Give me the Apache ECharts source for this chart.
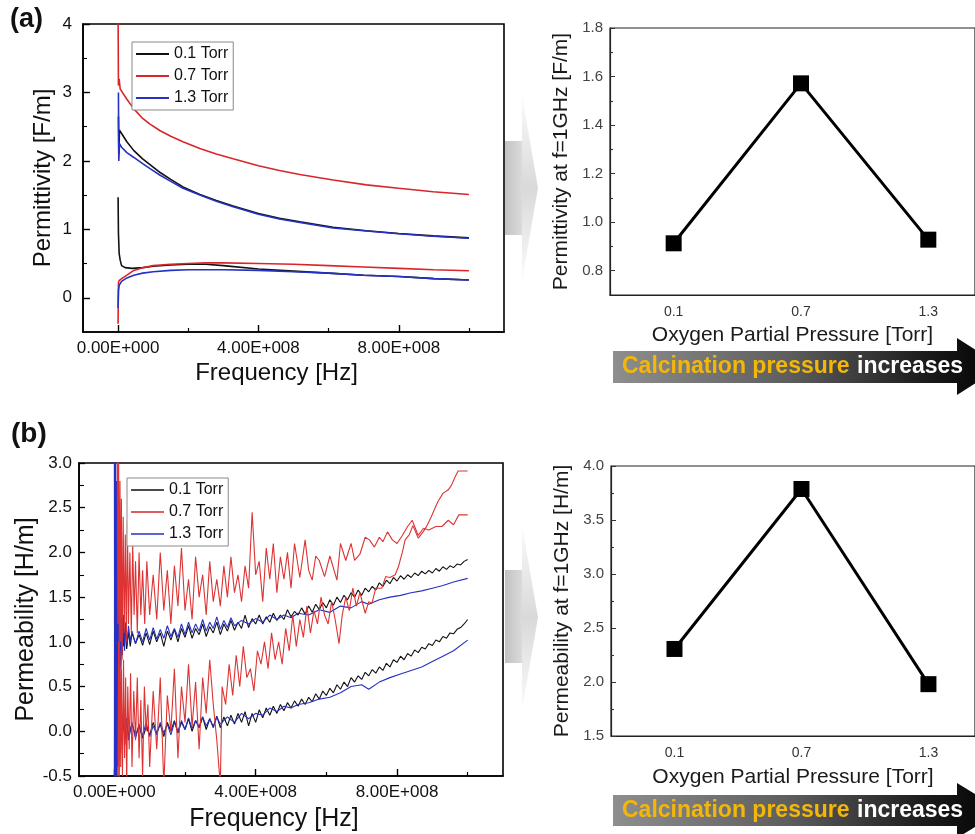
<!DOCTYPE html>
<html>
<head>
<meta charset="utf-8">
<script src="https://cdn.jsdelivr.net/npm/echarts@6/dist/echarts.min.js"></script>
<style>html,body{margin:0;padding:0;background:#fff;}#c{width:975px;height:834px;}</style>
</head>
<body>
<div id="c"></div>
<script>
// ---------- DATA (frequency in units of 1e8 Hz) ----------
const legendNames = ['0.1 Torr', '0.7 Torr', '1.3 Torr'];
const pressureTicks = [0.1, 0.7, 1.3];

// (a) Permittivity vs frequency
const epsBlackReal = [[0.01,2.65],[0.02,2.1],[0.04,2.45],[0.1,2.4],[0.25,2.28],[0.45,2.15],[0.7,2.03],[0.9,1.95],[1.2,1.83],[1.5,1.73],[1.85,1.62],[2.33,1.51],[2.8,1.42],[3.28,1.34],[4,1.23],[4.6,1.16],[5.18,1.11],[6.13,1.03],[7.08,0.98],[8,0.94],[8.98,0.905],[10,0.875]];
const epsBlackImag = [[0.0,1.47],[0.01,0.95],[0.03,0.65],[0.06,0.55],[0.1,0.47],[0.2,0.44],[0.4,0.43],[0.7,0.44],[1.0,0.46],[1.5,0.48],[2,0.49],[2.5,0.49],[3,0.47],[4,0.42],[5,0.39],[6,0.36],[7,0.33],[8,0.31],[9,0.28],[10,0.26]];
const epsRedReal = [[0.0,4.2],[0.01,3.1],[0.03,3.2],[0.06,3.05],[0.1,3.02],[0.25,2.9],[0.45,2.76],[0.7,2.62],[0.9,2.54],[1.2,2.44],[1.5,2.36],[1.85,2.28],[2.33,2.18],[2.8,2.10],[3.28,2.03],[4,1.93],[4.6,1.86],[5.18,1.80],[6.13,1.72],[7.08,1.65],[8,1.60],[8.98,1.55],[10,1.51]];
const epsRedImag = [[0.0,-0.38],[0.01,0.22],[0.03,0.25],[0.1,0.28],[0.25,0.33],[0.45,0.4],[0.7,0.44],[1.0,0.47],[1.5,0.49],[2,0.5],[2.5,0.51],[3,0.51],[4,0.5],[5,0.49],[6,0.47],[7,0.45],[8,0.43],[9,0.41],[10,0.395]];
const epsBlueReal = [[0.01,3.0],[0.02,2.0],[0.04,2.25],[0.1,2.2],[0.25,2.12],[0.45,2.05],[0.7,1.96],[0.9,1.89],[1.2,1.79],[1.5,1.70],[1.85,1.60],[2.33,1.50],[2.8,1.41],[3.28,1.33],[4,1.22],[4.6,1.15],[5.18,1.10],[6.13,1.02],[7.08,0.975],[8,0.935],[8.98,0.90],[10,0.87]];
const epsBlueImag = [[0.0,-0.15],[0.01,0.1],[0.03,0.18],[0.1,0.24],[0.25,0.29],[0.45,0.33],[0.7,0.36],[1.0,0.38],[1.5,0.40],[2,0.41],[3,0.41],[4,0.40],[5,0.38],[6,0.36],[7,0.33],[8,0.31],[9,0.28],[10,0.26]];

// (b) Permeability vs frequency
const muBlackReal = [[0.02,2.2],[0.04,0.3],[0.06,1.9],[0.08,0.5],[0.1,1.6],[0.12,0.7],[0.15,1.4],[0.18,0.85],[0.22,1.25],[0.26,0.95],[0.3,1.15],[0.35,0.92],[0.4,1.12],[0.45,0.95],[0.5,1.1],[0.6,0.98],[0.7,1.08],[0.8,0.96],[0.9,1.1],[1.0,0.97],[1.1,1.12],[1.2,1.0],[1.3,1.1],[1.4,0.95],[1.5,1.12],[1.6,1.02],[1.7,1.14],[1.8,1.0],[1.9,1.15],[2.0,1.05],[2.1,1.18],[2.2,1.04],[2.3,1.15],[2.4,1.08],[2.5,1.2],[2.6,1.06],[2.7,1.17],[2.8,1.1],[2.9,1.22],[3.0,1.08],[3.1,1.2],[3.2,1.12],[3.3,1.24],[3.4,1.13],[3.5,1.22],[3.6,1.15],[3.7,1.3],[3.8,1.16],[3.9,1.26],[4.0,1.2],[4.1,1.3],[4.2,1.2],[4.3,1.28],[4.4,1.22],[4.5,1.32],[4.6,1.24],[4.7,1.3],[4.8,1.25],[4.9,1.36],[5.0,1.28],[5.1,1.34],[5.2,1.3],[5.3,1.38],[5.4,1.31],[5.5,1.4],[5.6,1.33],[5.7,1.42],[5.8,1.36],[5.9,1.44],[6.0,1.38],[6.1,1.47],[6.2,1.41],[6.3,1.5],[6.4,1.44],[6.5,1.52],[6.6,1.47],[6.7,1.55],[6.8,1.5],[6.9,1.58],[7.0,1.52],[7.1,1.6],[7.2,1.56],[7.3,1.62],[7.4,1.58],[7.5,1.66],[7.6,1.62],[7.7,1.69],[7.8,1.65],[7.9,1.72],[8.0,1.68],[8.1,1.74],[8.2,1.7],[8.3,1.75],[8.4,1.72],[8.5,1.77],[8.6,1.74],[8.7,1.79],[8.8,1.76],[8.9,1.8],[9.0,1.77],[9.1,1.82],[9.2,1.79],[9.3,1.84],[9.4,1.81],[9.5,1.85],[9.6,1.83],[9.7,1.87],[9.8,1.86],[9.9,1.9],[10.0,1.92]];
const muBlackImag = [[0.02,-0.6],[0.04,1.2],[0.06,-0.4],[0.08,0.8],[0.1,-0.3],[0.12,0.55],[0.15,-0.2],[0.18,0.35],[0.22,-0.1],[0.26,0.2],[0.3,-0.08],[0.35,0.12],[0.4,-0.05],[0.5,0.08],[0.6,-0.05],[0.7,0.06],[0.8,-0.08],[0.9,0.05],[1.0,-0.04],[1.1,0.1],[1.2,-0.02],[1.3,0.08],[1.4,-0.06],[1.5,0.1],[1.6,0.0],[1.7,0.12],[1.8,-0.02],[1.9,0.1],[2.0,0.02],[2.1,0.14],[2.2,0.0],[2.3,0.12],[2.4,0.04],[2.5,0.16],[2.6,0.02],[2.7,0.14],[2.8,0.05],[2.9,0.17],[3.0,0.04],[3.1,0.16],[3.2,0.06],[3.3,0.18],[3.4,0.08],[3.5,0.2],[3.6,0.1],[3.7,0.22],[3.8,0.06],[3.9,0.2],[4.0,0.1],[4.1,0.24],[4.2,0.15],[4.3,0.26],[4.4,0.18],[4.5,0.28],[4.6,0.2],[4.7,0.3],[4.8,0.23],[4.9,0.32],[5.0,0.26],[5.1,0.34],[5.2,0.28],[5.3,0.36],[5.4,0.3],[5.5,0.38],[5.6,0.33],[5.7,0.42],[5.8,0.36],[5.9,0.45],[6.0,0.4],[6.1,0.48],[6.2,0.43],[6.3,0.52],[6.4,0.47],[6.5,0.55],[6.6,0.5],[6.7,0.6],[6.8,0.55],[6.9,0.62],[7.0,0.58],[7.1,0.66],[7.2,0.62],[7.3,0.69],[7.4,0.65],[7.5,0.72],[7.6,0.68],[7.7,0.76],[7.8,0.72],[7.9,0.8],[8.0,0.77],[8.1,0.84],[8.2,0.8],[8.3,0.87],[8.4,0.84],[8.5,0.91],[8.6,0.88],[8.7,0.94],[8.8,0.92],[8.9,0.98],[9.0,0.96],[9.1,1.02],[9.2,1.0],[9.3,1.06],[9.4,1.04],[9.5,1.1],[9.6,1.09],[9.7,1.14],[9.8,1.16],[9.9,1.2],[10.0,1.25]];
const muRedReal = [[0.08,3.6],[0.1,1.2],[0.12,3.2],[0.14,0.9],[0.16,2.8],[0.18,1.0],[0.2,2.6],[0.22,0.8],[0.25,2.4],[0.28,1.1],[0.31,2.2],[0.34,1.0],[0.37,2.35],[0.4,1.2],[0.44,2.0],[0.48,1.1],[0.52,2.1],[0.56,1.3],[0.6,1.9],[0.65,1.1],[0.7,2.0],[0.75,1.3],[0.8,1.8],[0.86,1.2],[0.92,1.9],[1.0,1.3],[1.1,1.75],[1.2,1.25],[1.3,2.0],[1.4,1.35],[1.5,1.8],[1.6,1.2],[1.7,1.85],[1.8,1.4],[1.9,2.05],[2.0,1.35],[2.1,1.7],[2.2,1.25],[2.3,1.95],[2.4,1.5],[2.5,1.75],[2.6,1.3],[2.7,1.9],[2.8,1.45],[2.9,1.7],[3.0,1.4],[3.1,1.85],[3.2,1.5],[3.3,1.95],[3.4,1.55],[3.5,1.75],[3.6,1.45],[3.7,1.85],[3.8,1.6],[3.9,2.45],[4.0,1.75],[4.1,1.9],[4.2,1.45],[4.3,2.05],[4.4,1.7],[4.5,2.1],[4.6,1.55],[4.7,1.95],[4.8,1.7],[4.9,2.0],[5.0,1.6],[5.1,2.1],[5.25,1.72],[5.4,2.14],[5.5,1.8],[5.6,1.69],[5.7,1.96],[5.8,1.91],[5.95,1.73],[6.1,1.96],[6.3,1.69],[6.4,2.1],[6.55,1.91],[6.7,2.1],[6.8,1.91],[6.95,1.98],[7.1,2.17],[7.22,2.14],[7.36,2.06],[7.5,2.17],[7.6,2.12],[7.73,2.23],[7.87,2.14],[8.0,2.1],[8.15,2.19],[8.3,2.29],[8.43,2.36],[8.6,2.19],[8.75,2.27],[8.9,2.25],[9.1,2.29],[9.27,2.29],[9.45,2.36],[9.6,2.31],[9.75,2.42],[10.0,2.42]];
const muRedImag = [[0.1,-0.7],[0.12,1.0],[0.14,-0.6],[0.16,0.9],[0.18,-0.4],[0.2,0.7],[0.23,-0.5],[0.26,0.8],[0.29,-0.3],[0.32,0.6],[0.35,-0.6],[0.38,0.5],[0.42,-0.2],[0.46,0.65],[0.5,-0.4],[0.55,0.45],[0.6,-0.1],[0.65,0.6],[0.7,-0.3],[0.75,0.35],[0.8,-0.5],[0.85,0.5],[0.9,0.0],[0.95,0.3],[1.0,-0.4],[1.1,0.45],[1.2,-0.2],[1.3,0.6],[1.4,-0.6],[1.5,0.4],[1.6,0.0],[1.7,0.7],[1.8,-0.3],[1.9,0.5],[2.0,0.1],[2.1,0.75],[2.2,0.05],[2.3,0.55],[2.4,-0.2],[2.5,0.6],[2.6,0.2],[2.7,0.8],[2.8,0.3],[2.9,-0.1],[3.0,-0.6],[3.05,0.5],[3.15,0.3],[3.25,0.75],[3.35,0.4],[3.45,0.85],[3.55,0.5],[3.65,0.95],[3.75,0.6],[3.85,0.7],[3.95,0.45],[4.05,0.9],[4.15,0.75],[4.25,1.0],[4.35,0.7],[4.45,1.1],[4.55,0.8],[4.65,1.0],[4.75,0.75],[4.85,1.15],[4.95,0.9],[5.05,1.3],[5.15,0.95],[5.25,1.25],[5.35,1.05],[5.45,1.4],[5.55,1.1],[5.65,1.35],[5.75,1.2],[5.85,1.5],[5.95,1.3],[6.05,1.2],[6.15,1.45],[6.25,1.25],[6.36,0.98],[6.45,1.3],[6.55,1.5],[6.65,1.35],[6.75,1.6],[6.85,1.4],[6.95,1.55],[7.1,1.32],[7.2,1.45],[7.29,1.43],[7.4,1.6],[7.57,1.6],[7.68,1.73],[7.8,1.72],[7.95,1.75],[8.04,1.84],[8.15,2.0],[8.23,2.14],[8.35,2.2],[8.45,2.3],[8.6,2.16],[8.74,2.23],[8.85,2.3],[8.97,2.4],[9.08,2.5],[9.16,2.57],[9.3,2.66],[9.45,2.7],[9.54,2.75],[9.65,2.85],[9.73,2.91],[10.0,2.91]];
const muBlueReal = [[0.0,3.3],[0.01,-0.6],[0.02,3.2],[0.03,-0.6],[0.04,3.0],[0.05,-0.5],[0.06,2.8],[0.07,-0.4],[0.08,2.5],[0.09,-0.2],[0.1,2.2],[0.11,0.1],[0.12,1.9],[0.13,0.3],[0.14,1.7],[0.15,0.5],[0.17,1.5],[0.19,0.7],[0.21,1.4],[0.23,0.85],[0.26,1.3],[0.29,0.9],[0.32,1.22],[0.36,0.95],[0.4,1.18],[0.45,1.0],[0.5,1.12],[0.6,0.98],[0.7,1.12],[0.8,1.0],[0.9,1.15],[1.0,1.02],[1.1,1.16],[1.2,1.03],[1.3,1.14],[1.4,1.04],[1.5,1.18],[1.6,1.06],[1.7,1.15],[1.8,1.05],[1.9,1.2],[2.0,1.08],[2.1,1.22],[2.2,1.1],[2.3,1.2],[2.4,1.12],[2.5,1.25],[2.6,1.12],[2.7,1.22],[2.8,1.15],[2.9,1.28],[3.0,1.14],[3.1,1.24],[3.2,1.16],[3.3,1.27],[3.4,1.18],[3.6,1.24],[3.8,1.2],[4.0,1.26],[4.2,1.22],[4.4,1.3],[4.6,1.25],[4.8,1.3],[5.0,1.27],[5.2,1.32],[5.5,1.3],[5.8,1.36],[6.1,1.33],[6.4,1.4],[6.7,1.38],[7.0,1.45],[7.2,1.42],[7.5,1.47],[7.8,1.5],[8.1,1.52],[8.4,1.55],[8.7,1.57],[9.0,1.6],[9.3,1.63],[9.6,1.67],[10.0,1.71]];
const muBlueImag = [[0.0,-0.7],[0.01,3.4],[0.02,-0.7],[0.03,2.6],[0.04,-0.6],[0.05,2.0],[0.06,-0.5],[0.07,1.5],[0.08,-0.5],[0.09,1.1],[0.1,-0.4],[0.11,0.8],[0.12,-0.35],[0.13,0.6],[0.14,-0.3],[0.16,0.45],[0.18,-0.25],[0.2,0.35],[0.23,-0.2],[0.26,0.25],[0.3,-0.15],[0.34,0.15],[0.4,-0.1],[0.5,0.1],[0.6,-0.08],[0.7,0.08],[0.8,-0.05],[0.9,0.1],[1.0,-0.06],[1.1,0.06],[1.2,-0.04],[1.3,0.1],[1.4,-0.02],[1.5,0.08],[1.6,-0.04],[1.7,0.1],[1.8,0.0],[1.9,0.12],[2.0,0.02],[2.1,0.15],[2.2,0.03],[2.3,0.12],[2.4,0.05],[2.5,0.16],[2.6,0.06],[2.7,0.14],[2.8,0.04],[2.9,0.16],[3.0,0.08],[3.2,0.16],[3.4,0.1],[3.6,0.2],[3.8,0.14],[4.0,0.2],[4.2,0.18],[4.4,0.26],[4.6,0.22],[4.8,0.28],[5.0,0.26],[5.2,0.3],[5.5,0.32],[5.8,0.36],[6.1,0.38],[6.4,0.43],[6.7,0.5],[7.0,0.52],[7.2,0.47],[7.5,0.55],[7.8,0.6],[8.1,0.64],[8.4,0.68],[8.7,0.72],[9.0,0.78],[9.3,0.84],[9.6,0.9],[10.0,1.02]];

// Values at f = 1 GHz vs oxygen partial pressure
const pressures = [0.1, 0.7, 1.3];
const permittivity1GHz = [0.913, 1.572, 0.928];
const permeability1GHz = [2.306, 3.787, 1.98];

// Tick label lists
const freqMajor = [0, 4, 8], freqMinor = [2, 6, 10];
const epsMajor = [0, 1, 2, 3, 4], epsMinor = [0.5, 1.5, 2.5, 3.5];
const muMinor = [-0.25, 0.25, 0.75, 1.25, 1.75, 2.25, 2.75];
const epsGHzMajor = [0.8, 1.0, 1.2, 1.4, 1.6, 1.8], epsGHzMinor = [0.9, 1.1, 1.3, 1.5, 1.7];
const muGHzMinor = [1.75, 2.25, 2.75, 3.25, 3.75];

// ---------- CHART ----------
const FONT = 'Liberation Sans, Arial, sans-serif';
const C_BLACK = '#111111', C_RED = '#d8262a', C_BLUE = '#2431c4';

function sciLabel(v) {
  if (v === 0) return '0.00E+000';
  const hz = v * 1e8;
  const e = Math.floor(Math.log10(hz));
  return (hz / Math.pow(10, e)).toFixed(2) + 'E+' + String(e).padStart(3, '0');
}
function pairs(xs, ys) { return xs.map((x, i) => [x, ys[i]]); }

const grids = [
  { left: 83, top: 24, width: 421, height: 308 },
  { left: 610, top: 28, width: 367, height: 267 },
  { left: 79, top: 463, width: 424, height: 313 },
  { left: 611, top: 466, width: 368, height: 270 }
].map((g, i) => Object.assign(g, {
  show: true, borderColor: i % 2 === 0 ? '#000' : '#222', borderWidth: i % 2 === 0 ? 1.6 : 1.2,
  backgroundColor: 'transparent', containLabel: false
}));

function freqAxes(gi, nameGap, nameSize) {
  return [{
    type: 'value', gridIndex: gi, min: -1, max: 11, position: 'bottom',
    axisLine: { show: true, onZero: false, lineStyle: { color: '#000', width: 1.6 } },
    axisTick: { show: true, inside: true, length: 7, customValues: freqMajor, lineStyle: { color: '#000', width: 1.4 } },
    axisLabel: { show: true, customValues: freqMajor, formatter: sciLabel, fontSize: 17, color: '#111', margin: 8, fontFamily: FONT },
    splitLine: { show: false },
    name: 'Frequency [Hz]', nameLocation: 'middle', nameGap: nameGap,
    nameTextStyle: { fontSize: nameSize, color: '#111', fontFamily: FONT, padding: [0, 34, 0, 0] }
  }, {
    type: 'value', gridIndex: gi, min: -1, max: 11, position: 'bottom',
    axisLine: { show: false, onZero: false },
    axisTick: { show: true, inside: true, length: 4, customValues: freqMinor, lineStyle: { color: '#000', width: 1.2 } },
    axisLabel: { show: false }, splitLine: { show: false }
  }];
}
function pressAxis(gi, nameGap) {
  return {
    type: 'value', gridIndex: gi, min: -0.2, max: 1.52, position: 'bottom',
    axisLine: { show: true, onZero: false, lineStyle: { color: '#222', width: 1.2 } },
    axisTick: { show: false },
    axisLabel: { show: true, customValues: pressureTicks, formatter: v => v.toFixed(1), fontSize: 14, color: '#333', margin: 10, fontFamily: FONT },
    splitLine: { show: false },
    name: 'Oxygen Partial Pressure [Torr]', nameLocation: 'middle', nameGap: nameGap,
    nameTextStyle: { fontSize: 21, color: '#1a1a1a', fontFamily: FONT }
  };
}
function minorY(gi, min, max, vals, len, color) {
  return {
    type: 'value', gridIndex: gi, min: min, max: max, position: 'left',
    axisLine: { show: false, onZero: false },
    axisTick: { show: true, inside: true, length: len, customValues: vals, lineStyle: { color: color, width: 1.1 } },
    axisLabel: { show: false }, splitLine: { show: false }
  };
}

const xAxes = [
  ...freqAxes(0, 29, 24),
  pressAxis(1, 30),
  ...freqAxes(2, 31, 25),
  pressAxis(3, 31)
];

const yAxes = [
  { type: 'value', gridIndex: 0, min: -0.5, max: 4, position: 'left',
    axisLine: { show: true, onZero: false, lineStyle: { color: '#000', width: 1.6 } },
    axisTick: { show: true, inside: true, length: 7, customValues: epsMajor, lineStyle: { color: '#000', width: 1.4 } },
    axisLabel: { show: true, customValues: epsMajor, fontSize: 17, color: '#111', margin: 11, fontFamily: FONT },
    splitLine: { show: false },
    name: 'Permittivity [F/m]', nameLocation: 'middle', nameGap: 28,
    nameTextStyle: { fontSize: 24, color: '#111', fontFamily: FONT } },
  minorY(0, -0.5, 4, epsMinor, 4, '#000'),
  { type: 'value', gridIndex: 1, min: 0.7, max: 1.8, position: 'left',
    axisLine: { show: true, onZero: false, lineStyle: { color: '#222', width: 1.2 } },
    axisTick: { show: true, inside: true, length: 5, customValues: epsGHzMajor, lineStyle: { color: '#333', width: 1 } },
    axisLabel: { show: true, customValues: epsGHzMajor, formatter: v => v.toFixed(1), fontSize: 15, color: '#444', margin: 7, fontFamily: FONT },
    splitLine: { show: false },
    name: 'Permittivity at f=1GHz [F/m]', nameLocation: 'middle', nameGap: 38,
    nameTextStyle: { fontSize: 21, color: '#1a1a1a', fontFamily: FONT } },
  minorY(1, 0.7, 1.8, epsGHzMinor, 3, '#333'),
  { type: 'value', gridIndex: 2, min: -0.5, max: 3, interval: 0.5, position: 'left',
    axisLine: { show: true, onZero: false, lineStyle: { color: '#000', width: 1.6 } },
    axisTick: { show: true, inside: true, length: 6, lineStyle: { color: '#000', width: 1.3 } },
    axisLabel: { show: true, formatter: v => v.toFixed(1), fontSize: 17, color: '#111', margin: 7, fontFamily: FONT },
    splitLine: { show: false },
    name: 'Permeability [H/m]', nameLocation: 'middle', nameGap: 38,
    nameTextStyle: { fontSize: 25, color: '#111', fontFamily: FONT } },
  minorY(2, -0.5, 3, muMinor, 5, '#000'),
  { type: 'value', gridIndex: 3, min: 1.5, max: 4.0, interval: 0.5, position: 'left',
    axisLine: { show: true, onZero: false, lineStyle: { color: '#222', width: 1.2 } },
    axisTick: { show: true, inside: true, length: 5, lineStyle: { color: '#333', width: 1 } },
    axisLabel: { show: true, formatter: v => v.toFixed(1), fontSize: 15, color: '#444', margin: 7, fontFamily: FONT },
    splitLine: { show: false },
    name: 'Permeability at f=1GHz [H/m]', nameLocation: 'middle', nameGap: 38,
    nameTextStyle: { fontSize: 21, color: '#1a1a1a', fontFamily: FONT } },
  minorY(3, 1.5, 4.0, muGHzMinor, 3, '#333')
];

function curve(name, data, color, width, xi, yi, z) {
  return { type: 'line', name: name, data: data, xAxisIndex: xi, yAxisIndex: yi,
    symbol: 'none', showSymbol: false, smooth: false, clip: true, animation: false, z: z || 2,
    lineStyle: { color: color, width: width }, itemStyle: { color: color } };
}
function peak(data, xi, yi) {
  return { type: 'line', data: data, xAxisIndex: xi, yAxisIndex: yi,
    symbol: 'rect', symbolSize: 16, showSymbol: true, animation: false,
    lineStyle: { color: '#000', width: 3 }, itemStyle: { color: '#000' } };
}

const series = [
  curve(legendNames[0], epsBlackReal, C_BLACK, 1.6, 0, 0),
  curve(legendNames[0], epsBlackImag, C_BLACK, 1.6, 0, 0),
  curve(legendNames[1], epsRedReal, C_RED, 1.6, 0, 0),
  curve(legendNames[1], epsRedImag, C_RED, 1.6, 0, 0),
  curve(legendNames[2], epsBlueReal, C_BLUE, 1.6, 0, 0),
  curve(legendNames[2], epsBlueImag, C_BLUE, 1.6, 0, 0),
  peak(pairs(pressures, permittivity1GHz), 2, 2),
  curve(legendNames[0], muBlackReal, C_BLACK, 1.1, 3, 4),
  curve(legendNames[0], muBlackImag, C_BLACK, 1.1, 3, 4),
  curve(legendNames[2], muBlueReal, C_BLUE, 1.1, 3, 4),
  curve(legendNames[2], muBlueImag, C_BLUE, 1.1, 3, 4),
  curve(legendNames[1], muRedReal, '#dd3333', 1.1, 3, 4, 3),
  curve(legendNames[1], muRedImag, '#dd3333', 1.1, 3, 4, 3),
  peak(pairs(pressures, permeability1GHz), 5, 6)
];

function legendAt(left, top, iconH) {
  return {
    show: true, type: 'plain',
    data: legendNames, orient: 'vertical', left: left, top: top,
    icon: 'rect', itemWidth: 33, itemHeight: iconH, itemGap: 4, selectedMode: false,
    padding: [3, 5, 3, 4], borderColor: '#8a8a8a', borderWidth: 1, backgroundColor: '#fff',
    textStyle: { fontSize: 16, color: '#111', fontFamily: FONT, lineHeight: 18 },
    z: 10
  };
}

function greyArrow(yTop, yBot, headTop, headBot) {
  const mid = (headTop + headBot) / 2;
  return [
    { type: 'rect', shape: { x: 505, y: yTop, width: 18, height: yBot - yTop }, silent: true,
      style: { fill: new echarts.graphic.LinearGradient(0, 0, 1, 0, [{ offset: 0, color: '#c2c2c2' }, { offset: 1, color: '#dcdcdc' }]) } },
    { type: 'polygon', shape: { points: [[522, headTop], [538, mid], [522, headBot]] }, silent: true,
      style: { fill: new echarts.graphic.LinearGradient(0, 0, 0, 1, [{ offset: 0, color: '#fbfbfb' }, { offset: 0.5, color: '#d9d9d9' }, { offset: 1, color: '#fbfbfb' }]) } }
  ];
}
function banner(bodyTop, bodyBot, headTop, headBot) {
  const mid = (headTop + headBot) / 2;
  return [
    { type: 'polygon', silent: true,
      shape: { points: [[613, bodyTop], [957, bodyTop], [957, headTop], [1002, mid], [957, headBot], [957, bodyBot], [613, bodyBot]] },
      style: { fill: new echarts.graphic.LinearGradient(0, 0, 1, 0, [{ offset: 0, color: '#8e8e8e' }, { offset: 0.45, color: '#5e5e5e' }, { offset: 0.8, color: '#1c1c1c' }, { offset: 1, color: '#000' }]) } },
    { type: 'text', silent: true, x: 622, y: (bodyTop + bodyBot) / 2,
      style: { text: 'Calcination pressure', fill: '#f3b70a', fontSize: 23, fontWeight: 'bold', fontFamily: FONT, verticalAlign: 'middle' } },
    { type: 'text', silent: true, x: 857, y: (bodyTop + bodyBot) / 2,
      style: { text: 'increases', fill: '#ffffff', fontSize: 23, fontWeight: 'bold', fontFamily: FONT, verticalAlign: 'middle' } }
  ];
}

const graphic = [
  { type: 'text', silent: true, left: 10, top: 6, style: { text: '(a)', fontSize: 27, fontWeight: 'bold', fill: '#111', fontFamily: FONT } },
  { type: 'text', silent: true, left: 11, top: 420, style: { text: '(b)', fontSize: 28, fontWeight: 'bold', fill: '#111', fontFamily: FONT } },
  ...greyArrow(141, 235, 95, 281),
  ...greyArrow(570, 663, 525, 710),
  ...banner(351, 383, 338, 395),
  ...banner(795, 826, 783, 838)
];

const chart = echarts.init(document.getElementById('c'), null, { renderer: 'canvas' });
chart.setOption({
  backgroundColor: '#ffffff',
  animation: false,
  textStyle: { fontFamily: FONT },
  grid: grids,
  xAxis: xAxes,
  yAxis: yAxes,
  legend: [legendAt(132, 42, 2), legendAt(127, 478, 1.5)],
  series: series,
  graphic: graphic
});
</script>
</body>
</html>
